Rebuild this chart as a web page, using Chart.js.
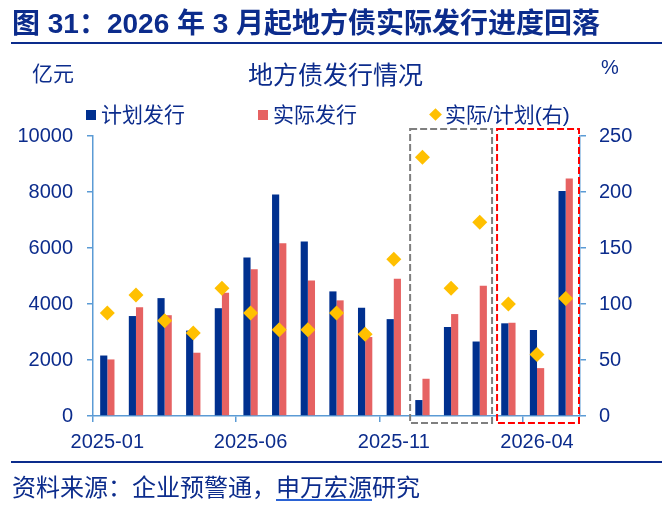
<!DOCTYPE html>
<html>
<head>
<meta charset="utf-8">
<script src="https://cdn.jsdelivr.net/npm/chart.js@4.4.1/dist/chart.umd.min.js"></script>
<style>
  html, body { margin:0; padding:0; background:#fff; }
  #wrap { position:relative; width:672px; height:510px; overflow:hidden;
          font-family:"Liberation Sans","Noto Sans CJK SC",sans-serif; color:#0c2c8c; }
  canvas { position:absolute; left:0; top:0; }
  .t { position:absolute; white-space:nowrap; line-height:1; }
  .rule { position:absolute; background:#0c2c8c; }
  .sw { position:absolute; }
</style>
</head>
<body>
<div id="wrap">
  <canvas id="c" width="672" height="510"></canvas>
  <div class="t" style="left:12px;top:10px;font-size:28px;font-weight:bold;">图 31：2026 年 3 月起地方债实际发行进度回落</div>
  <div class="rule" style="left:11px;top:42px;width:651px;height:2px;"></div>
  <div class="t" style="left:32px;top:63px;font-size:21px;">亿元</div>
  <div class="t" style="left:248px;top:63px;font-size:25px;">地方债发行情况</div>
  <div class="t" style="left:601px;top:57px;font-size:20px;">%</div>
  <div id="legend"></div>
  <div class="rule" style="left:11px;top:461px;width:651px;height:2px;"></div>
  <div class="t" style="left:12px;top:476px;font-size:24px;">资料来源：企业预警通，<span style="text-decoration:underline;text-decoration-color:#2a62d4;text-underline-offset:3px;">申万宏源</span>研究</div>
</div>
<script>
// ---- data ----
const months = ['2025-01','2025-02','2025-03','2025-04','2025-05','2025-06','2025-07','2025-08','2025-09','2025-10','2025-11','2025-12','2026-01','2026-02','2026-03','2026-04','2026-05'];
const planned = [2160, 3570, 4210, 3050, 3850, 5660, 7910, 6230, 4450, 3870, 3460, 570, 3180, 2660, 3310, 3070, 8040];
const actual  = [2020, 3880, 3600, 2260, 4400, 5240, 6170, 4840, 4130, 2820, 4900, 1330, 3640, 4650, 3330, 1710, 8480];
const ratio   = [92, 108, 85, 74, 114, 92, 77, 77, 92, 73, 140, 231, 114, 173, 100, 55, 105];
const leftTicks = [0, 2000, 4000, 6000, 8000, 10000];
const rightTicks = [0, 50, 100, 150, 200, 250];
const seriesNames = ['计划发行', '实际发行', '实际/计划(右)'];
const highlightBoxes = [
  { from: '2025-12', to: '2026-02', color: '#7f7f7f' },
  { from: '2026-03', to: '2026-05', color: '#ff0000' }
];

const NAVY = '#0c2c8c';
const AXIS = '#5b9bd5';
const BLUE = '#00308f';
const RED = '#e66262';
const GOLD = '#ffc000';

// ---- legend (HTML) ----
const legend = document.getElementById('legend');
const legendItems = [
  { name: seriesNames[0], color: BLUE, shape: 'sq', x: 86 },
  { name: seriesNames[1], color: RED, shape: 'sq', x: 258 },
  { name: seriesNames[2], color: GOLD, shape: 'dia', x: 429 }
];
legendItems.forEach(it => {
  const s = document.createElement('div');
  s.className = 'sw';
  if (it.shape === 'sq') {
    s.style.cssText = `left:${it.x}px;top:110px;width:10px;height:10px;background:${it.color};`;
  } else {
    s.style.cssText = `left:${it.x+2}px;top:110px;width:9px;height:9px;background:${it.color};transform:rotate(45deg);`;
  }
  legend.appendChild(s);
  const t = document.createElement('div');
  t.className = 't';
  t.style.cssText = `left:${it.x + (it.shape==='sq'?15:16)}px;top:104px;font-size:21px;`;
  t.textContent = it.name;
  legend.appendChild(t);
});

// ---- box plugin ----
const boxPlugin = {
  id: 'boxes',
  afterDatasetsDraw(chart) {
    const x = chart.scales.x, ca = chart.chartArea, ctx = chart.ctx;
    const w = x.width / months.length;
    ctx.save();
    ctx.lineWidth = 2;
    ctx.setLineDash([7, 3]);
    highlightBoxes.forEach((b, k) => {
      const i0 = months.indexOf(b.from), i1 = months.indexOf(b.to);
      const l = x.getPixelForValue(i0) - w/2 + (k === 0 ? 2 : 3);
      const r = x.getPixelForValue(i1) + w/2 - (k === 0 ? 2 : 1);
      ctx.strokeStyle = b.color;
      ctx.strokeRect(l, ca.top - 7, r - l, (ca.bottom + 7) - (ca.top - 7));
    });
    ctx.restore();
  }
};

Chart.defaults.font.family = '"Liberation Sans","Noto Sans CJK SC",sans-serif';

new Chart(document.getElementById('c'), {
  data: {
    labels: months,
    datasets: [
      { type: 'line', label: seriesNames[2], data: ratio, yAxisID: 'y1', showLine: false,
        pointStyle: 'rectRot', pointRadius: 7.5, pointBackgroundColor: GOLD, pointBorderColor: GOLD,
        pointBorderWidth: 0, order: 0 },
      { type: 'bar', label: seriesNames[0], data: planned, yAxisID: 'y', backgroundColor: BLUE,
        categoryPercentage: 0.5, barPercentage: 1.0, order: 1 },
      { type: 'bar', label: seriesNames[1], data: actual, yAxisID: 'y', backgroundColor: RED,
        categoryPercentage: 0.5, barPercentage: 1.0, order: 1 }
    ]
  },
  options: {
    responsive: false,
    animation: false,
    devicePixelRatio: 1,
    layout: { padding: { left: 0, right: 0, top: 136, bottom: 54 } },
    plugins: { legend: { display: false }, tooltip: { enabled: false } },
    scales: {
      x: {
        offset: true,
        grid: { offset: true, drawOnChartArea: false, drawTicks: true, tickLength: 6,
                tickColor: (c) => (c.index !== undefined && c.index % 5 === 0) ? AXIS : 'rgba(0,0,0,0)',
                lineWidth: 1.5 },
        border: { color: AXIS, width: 1.5 },
        ticks: { autoSkip: false, maxRotation: 0, minRotation: 0, padding: 8,
                 color: NAVY, font: { size: 20 },
                 callback: (v, i) => (i % 5 === 0 ? months[i] : '') },
        afterFit: (s) => { s.height = 40; }
      },
      y: {
        position: 'left', min: 0, max: 10000,
        afterBuildTicks: (s) => { s.ticks = leftTicks.map(v => ({ value: v })); },
        grid: { drawOnChartArea: false, tickLength: 6, tickColor: AXIS, lineWidth: 1.5 },
        border: { color: AXIS, width: 1.5 },
        ticks: { color: NAVY, font: { size: 20 }, padding: 14, callback: (v) => String(v) },
        afterFit: (s) => { s.width = 93; }
      },
      y1: {
        position: 'right', min: 0, max: 250,
        afterBuildTicks: (s) => { s.ticks = rightTicks.map(v => ({ value: v })); },
        grid: { drawOnChartArea: false, tickLength: 6, tickColor: AXIS, lineWidth: 1.5 },
        border: { color: AXIS, width: 1.5 },
        ticks: { color: NAVY, font: { size: 20 }, padding: 13, callback: (v) => String(v) },
        afterFit: (s) => { s.width = 92; }
      }
    }
  },
  plugins: [boxPlugin]
});
</script>
</body>
</html>
